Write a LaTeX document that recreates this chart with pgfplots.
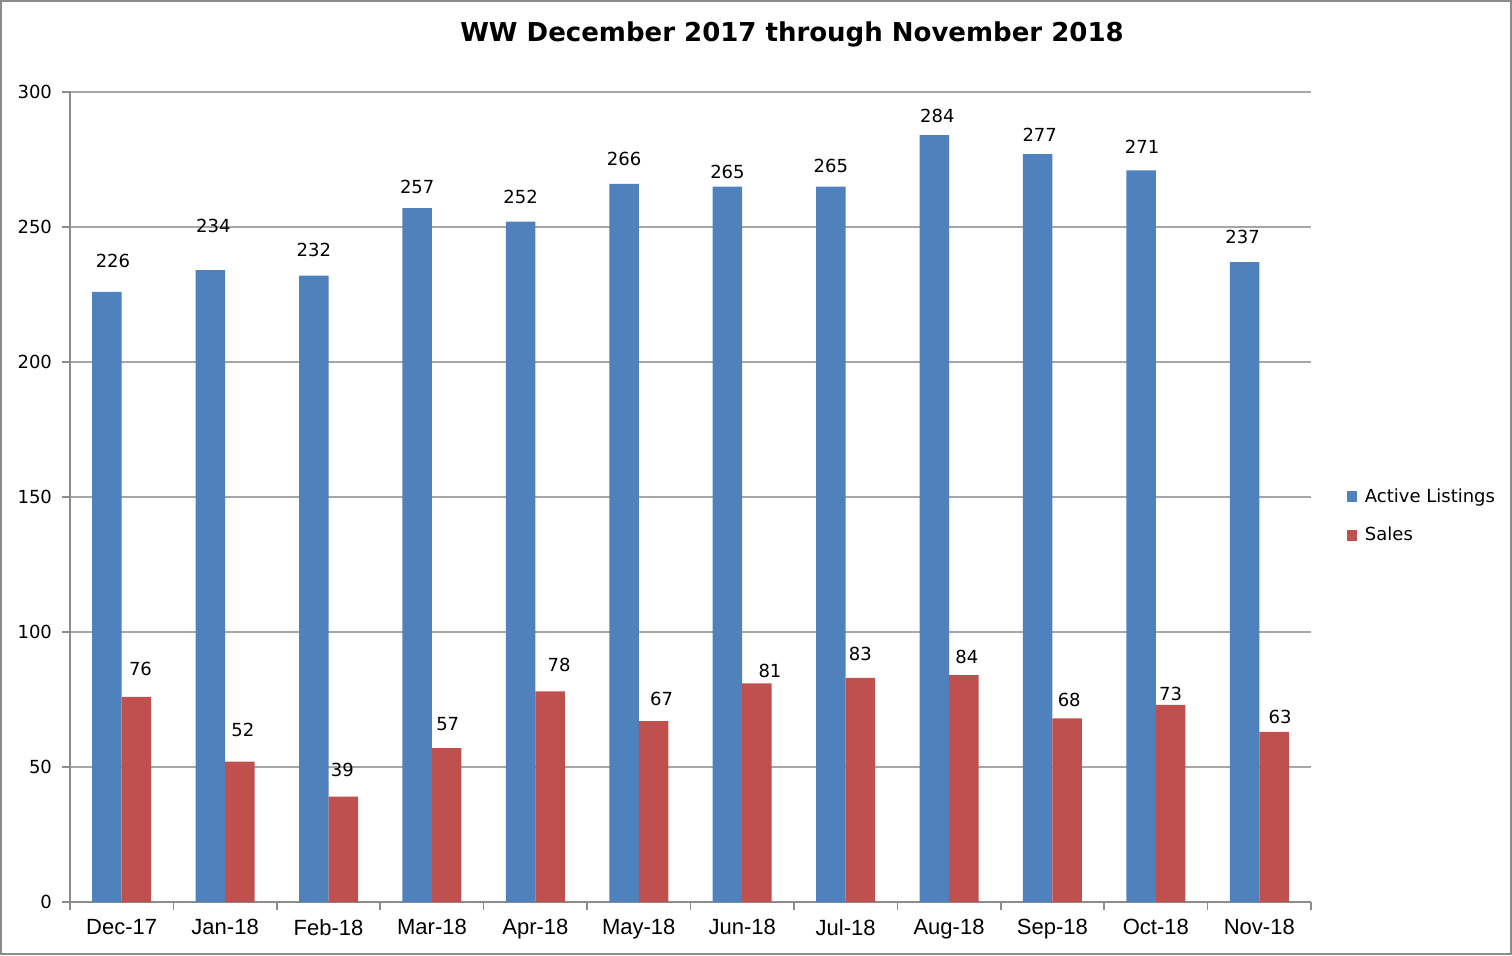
\documentclass[border=0pt]{standalone}
\usepackage{pgfplots}
\usepackage{pgfplotstable}
\pgfplotsset{compat=1.18}
\usepackage{fontspec}
\setmainfont{DejaVu Sans}
\newfontfamily\arialf{Liberation Sans}
\definecolor{barblue}{HTML}{4F81BD}
\definecolor{barred}{HTML}{C0504D}
\definecolor{gridg}{HTML}{A6A6A6}
\definecolor{frameg}{HTML}{8C8C8C}
\pgfplotstableread{
x y dx dy
0 226 3 15.5
1 234 1.5 22
2 232 0 13
3 257 0 10.5
4 252 0 12.5
5 266 0 12.5
6 265 0 7.5
7 265 0 10.5
8 284 1.5 9.5
9 277 1 9.5
10 271 0.5 11.5
11 237 -1 12.5
}\activetab
\pgfplotstableread{
x y dx dy
0 76 2 14
1 52 1.5 16
2 39 -0.5 13.5
3 57 0.5 12
4 78 4.5 13
5 67 4 11
6 81 6.5 6
7 83 0 12
8 84 1.5 9
9 68 1 9
10 73 0 5.5
11 63 3 7.5
}\salestab
\begin{document}
\begin{tikzpicture}
\draw[frameg, line width=0.8pt] (0.4pt,0.4pt) rectangle (755.6pt,477.1pt);
\node[font=\fontsize{13}{15}\selectfont\bfseries] at (396pt,460.5pt) {WW December 2017 through November 2018};
\begin{axis}[
  at={(35pt,26.5pt)}, anchor=south west,
  scale only axis, width=620.5pt, height=405pt,
  ybar=0pt, bar width=14.75pt,
  xmin=-0.5, xmax=11.5, ymin=0, ymax=300,
  ytick={0,50,...,300},
  xtick={0,...,11},
  xticklabels={Dec-17,Jan-18,Feb-18,Mar-18,Apr-18,May-18,Jun-18,Jul-18,Aug-18,Sep-18,Oct-18,Nov-18},
  minor xtick={-0.5,0.5,...,11.5},
  major x tick style={draw=none},
  minor x tick style={draw=frameg, line width=0.8pt},
  minor tick length=4pt,
  major tick length=4pt,
  tick align=outside,
  ytick style={draw=frameg, line width=0.8pt},
  xtick pos=bottom, ytick pos=left,
  axis x line*=bottom, axis y line*=left,
  axis line style={draw=frameg, line width=0.8pt},
  ymajorgrids, grid style={draw=gridg, line width=0.7pt},
  /pgf/number format/assume math mode=true,
  yticklabel style={font=\fontsize{9}{11}\selectfont, xshift=-1.5pt},
  xticklabel style={font=\arialf\fontsize{11}{13}\selectfont, yshift=-1pt},
  nodes near coords,
  visualization depends on={\thisrow{dx} \as \ldx},
  visualization depends on={\thisrow{dy} \as \ldy},
  every node near coord/.append style={font=\fontsize{9}{11}\selectfont, anchor=center, yshift=\ldy pt, xshift=\ldx pt},
  legend style={at={(1.0235,0.4765)}, anchor=west, draw=none, fill=none,
    font=\fontsize{9}{11}\selectfont, row sep=7pt,
    legend cell align=left},
  legend image code/.code={\fill[#1] (0pt,-2.6pt) rectangle (5.2pt,2.6pt);},
  clip=false,
]
\addplot[fill=barblue, draw=none] table[x=x, y=y] {\activetab};
\addplot[fill=barred, draw=none] table[x=x, y=y] {\salestab};
\legend{\hspace{2pt}Active Listings, \hspace{2pt}Sales}
\end{axis}
\end{tikzpicture}
\end{document}
